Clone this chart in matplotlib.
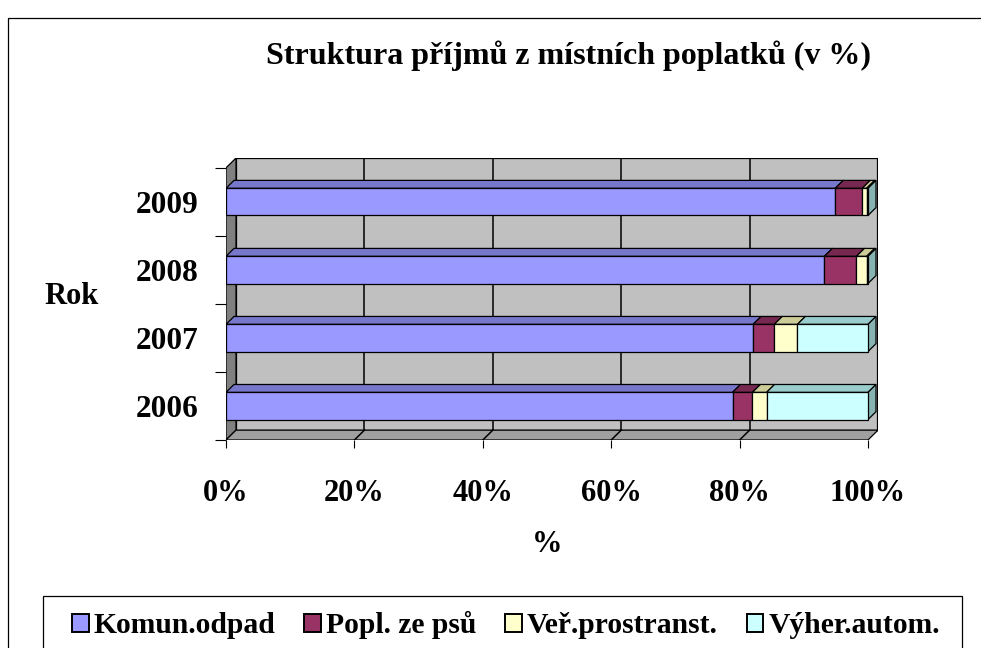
import matplotlib.pyplot as plt
from matplotlib.patches import Polygon, Rectangle, Patch

plt.rcParams['font.family'] = ['Liberation Serif', 'DejaVu Serif']
plt.rcParams['font.weight'] = 'bold'

years = ['2006', '2007', '2008', '2009']
series = ['Komun.odpad', 'Popl. ze psů', 'Veř.prostranst.', 'Výher.autom.']
komun = [78.9, 82.1, 93.2, 94.9]
psi = [3.1, 3.3, 5.0, 4.2]
verej = [2.2, 3.6, 1.6, 0.7]
automat = [15.8, 11.0, 0.2, 0.2]
xticks = [0, 20, 40, 60, 80, 100]

front = ['#9999FF', '#993366', '#FFFFCC', '#CCFFFF']
top = ['#7777CC', '#772850', '#CCCC99', '#99CCCC']
side = ['#6666AA', '#661F44', '#AAAA88', '#88B3B3']

W, H = 981, 648
fig = plt.figure(figsize=(W / 100, H / 100), dpi=100)
# plot area in pixels: front plane x 226..868, y 440 (bottom), back wall top 158
ax = fig.add_axes([226 / W, 1 - 440 / H, 652 / W, 282 / H])

dx, dy = 1.56, 0.145      # depth offset (data units)
bdx, bdy = 0.8 * dx, 0.8 * dy
n = len(years)
lw = 0.9

ax.set_xlim(0, 100 + dx)
ax.set_ylim(0, n + dy)
for s in ax.spines.values():
    s.set_visible(False)
ax.patch.set_visible(False)

# walls
ax.add_patch(Rectangle((dx, dy), 100, n, fc='#C0C0C0', ec='black', lw=lw, zorder=0))
ax.add_patch(Polygon([(0, 0), (dx, dy), (dx, n + dy), (0, n)], closed=True,
                     fc='#808080', ec='black', lw=lw, zorder=1))
ax.add_patch(Polygon([(0, 0), (100, 0), (100 + dx, dy), (dx, dy)], closed=True,
                     fc='#A0A0A0', ec='black', lw=lw, zorder=1))
for t in xticks[1:-1]:
    ax.plot([t + dx, t + dx], [dy, n + dy], color='black', lw=1.1, zorder=0.5)
    ax.plot([t, t + dx], [0, dy], color='black', lw=1.1, zorder=1.5)
ax.plot([100 + dx, 100 + dx], [dy, n + dy], color='black', lw=1.6, zorder=1.5)

# bars
data = [komun, psi, verej, automat]
h = 0.4
for i in range(n):
    tot = sum(d[i] for d in data)
    y0, y1 = i + 0.5 - h / 2, i + 0.5 + h / 2
    left = 0
    last = 0
    for j, d in enumerate(data):
        w = d[i] / tot * 100
        if w <= 0:
            continue
        ax.add_patch(Polygon([(left, y1), (left + w, y1), (left + w + bdx, y1 + bdy),
                              (left + bdx, y1 + bdy)], closed=True,
                             fc=top[j], ec='black', lw=lw, zorder=3))
        ax.add_patch(Rectangle((left, y0), w, h, fc=front[j], ec='black', lw=lw, zorder=4))
        left += w
        last = j
    ax.add_patch(Polygon([(left, y0), (left + bdx, y0 + bdy), (left + bdx, y1 + bdy),
                          (left, y1)], closed=True, fc=side[last], ec='black', lw=lw, zorder=3))

# axes ticks and labels
ax.set_xticks(xticks)
ax.set_xticklabels([f'{t}%' for t in xticks], fontsize=22, fontweight='bold')
ax.tick_params(axis='x', length=6, width=0.8, pad=22, direction='out')
ax.set_yticks(range(n + 1))
ax.set_yticklabels([])
ax.set_yticks([i + 0.5 for i in range(n)], minor=True)
ax.set_yticklabels(years, minor=True, fontsize=22.5, fontweight='bold')
ax.tick_params(axis='y', which='major', length=8, width=0.8, direction='out')
ax.tick_params(axis='y', which='minor', length=0, pad=20)

ax.set_ylabel('Rok', rotation=0, fontsize=22, fontweight='bold', va='center', ha='center')
ax.yaxis.set_label_coords(-0.237, 0.51)
ax.set_xlabel('%', fontsize=22, fontweight='bold', va='center')
ax.xaxis.set_label_coords(0.492, -0.37)

fig.text(568 / W, 1 - 56 / H, 'Struktura příjmů z místních poplatků (v %)',
         ha='center', va='center', fontsize=23, fontweight='bold')

# outer border and legend box
fig.patches.append(Rectangle((8 / W, -0.05), 1.0, 1.05 - 18 / H, transform=fig.transFigure,
                             fill=False, ec='black', lw=0.9))
fig.patches.append(Rectangle((43 / W, -0.05), 919 / W, 0.05 + 1 - 596 / H, transform=fig.transFigure,
                             fill=False, ec='black', lw=0.9))

handles = [Patch(fc=front[j], ec='black', lw=1.4) for j in range(len(series))]
fig.legend(handles, series, loc='center left', bbox_to_anchor=(72 / W, 1 - 625 / H),
           ncol=4, frameon=False, handlelength=0.56, handleheight=0.56,
           handletextpad=0.17, columnspacing=0.98, borderpad=0, borderaxespad=0,
           prop={'weight': 'bold', 'size': 21.3})

fig.savefig('out.png', dpi=100)
